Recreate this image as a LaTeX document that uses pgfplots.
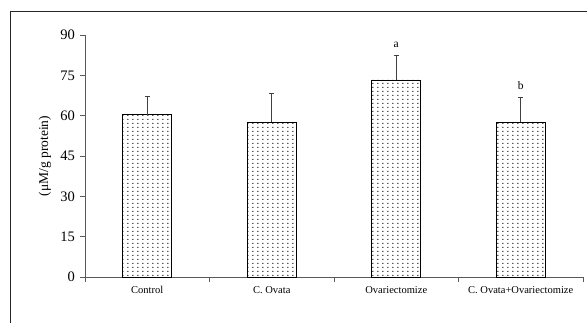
\documentclass[border=0pt]{standalone}
\usepackage{pgfplots}
\pgfplotsset{compat=1.18}
\usepackage{fontspec}
\setmainfont{Liberation Serif}
\usetikzlibrary{patterns}
\pgfdeclarepatternformonly{mydots}{\pgfpointorigin}{\pgfpoint{5.3pt}{3.8pt}}{\pgfpoint{5.3pt}{3.8pt}}{\pgfpathrectangle{\pgfpoint{1.5pt}{1.2pt}}{\pgfpoint{1.1pt}{1.1pt}}\pgfusepath{fill}}
\begin{document}
\begin{tikzpicture}[x=1pt,y=1pt]
\useasboundingbox (0,0) rectangle (587,322);
\draw[line width=1pt, black!85] (10,-2) -- (10,310) -- (589,310);
\begin{axis}[
  at={(85pt,45pt)}, anchor=south west, scale only axis,
  width=498pt, height=242pt,
  xmin=0, xmax=4, ymin=0, ymax=90,
  axis lines=left,
  axis line style={-, black!65, line width=0.9pt},
  clip=false,
  ybar, bar width=49pt,
  ytick={0,15,...,90},
  xtick={0,1,2,3,4}, xticklabels={},
  extra x ticks={0.5,1.5,2.5,3.5},
  extra x tick labels={Control, C. Ovata, Ovariectomize, C. Ovata+Ovariectomize},
  extra x tick style={major tick length=0pt},
  tick align=outside,
  major tick length=4.5pt,
  tick style={black!65, line width=0.9pt},
  x tick label style={font=\fontsize{10.5}{12}\selectfont, yshift=-6pt},
  y tick label style={font=\fontsize{14.5}{16}\selectfont, xshift=-2pt},
  /pgf/number format/assume math mode=true,
  ylabel={(μM/g protein)},
  ylabel style={at={(axis description cs:-0.0803,0.5)}, anchor=center, font=\fontsize{13.5}{15}\selectfont},
]
\addplot[draw=black, line width=0.8pt, pattern=mydots, pattern color=black,
  error bars/.cd, y dir=plus, y explicit,
  error bar style={black!75, line width=0.8pt},
  error mark options={rotate=90, mark size=2.5pt, black!75, line width=0.8pt}]
  coordinates {
  (0.5,60.3) +- (0,6.8)
  (1.5,57.6) +- (0,10.5)
  (2.5,73.3) +- (0,9.3)
  (3.5,57.6) +- (0,9.3)
  };
\node[font=\fontsize{11.5}{13}\selectfont] at (axis cs:2.5,86.3) {a};
\node[font=\fontsize{11.5}{13}\selectfont] at (axis cs:3.5,71.1) {b};
\end{axis}
\end{tikzpicture}
\end{document}
